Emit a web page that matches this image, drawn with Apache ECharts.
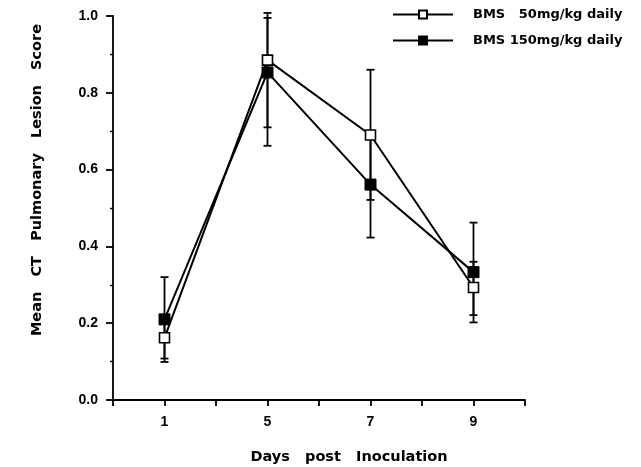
<!DOCTYPE html>
<html>
<head>
<meta charset="utf-8">
<script src="https://cdn.jsdelivr.net/npm/echarts@6/dist/echarts.min.js"></script>
<style>
html,body{margin:0;padding:0;background:#fff;}
#chart{width:641px;height:467px;}
</style>
</head>
<body>
<div id="chart"></div>
<script>
var days = ['1', '5', '7', '9'];
var yTicks = [0, 0.2, 0.4, 0.6, 0.8, 1.0];

var name50 = 'BMS   50mg/kg daily';
var mean50 = [0.162, 0.885, 0.690, 0.293];
var low50  = [0.108, 0.710, 0.521, 0.221];
var high50 = [0.216, 0.995, 0.860, 0.360];

var name150 = 'BMS 150mg/kg daily';
var mean150 = [0.210, 0.853, 0.561, 0.333];
var low150  = [0.099, 0.662, 0.423, 0.202];
var high150 = [0.320, 1.008, 0.700, 0.462];

function xPos(i) { return 2 * i + 1; }
function pts(arr) { return arr.map(function (v, i) { return [xPos(i), v]; }); }
function errData(lo, hi) { return lo.map(function (v, i) { return [xPos(i), v, hi[i]]; }); }

var FONT = 'Liberation Sans, Arial, Helvetica, sans-serif';
var TFONT = 'DejaVu Sans, Verdana, sans-serif';

function errRender(params, api) {
  var x = api.value(0);
  var p1 = api.coord([x, api.value(1)]);
  var p2 = api.coord([x, api.value(2)]);
  var w = 4;
  var st = { stroke: '#000', lineWidth: 1.8 };
  return {
    type: 'group',
    children: [
      { type: 'line', shape: { x1: p1[0], y1: p1[1], x2: p2[0], y2: p2[1] }, style: st },
      { type: 'line', shape: { x1: p1[0] - w, y1: p1[1], x2: p1[0] + w, y2: p1[1] }, style: st },
      { type: 'line', shape: { x1: p2[0] - w, y1: p2[1], x2: p2[0] + w, y2: p2[1] }, style: st }
    ]
  };
}

var chart = echarts.init(document.getElementById('chart'), null, { renderer: 'canvas' });
chart.setOption({
  animation: false,
  backgroundColor: '#fff',
  grid: { left: 113, right: 116, top: 16, bottom: 67, containLabel: false },
  legend: {
    orient: 'vertical',
    left: 392,
    top: 8,
    padding: 0,
    itemWidth: 60,
    itemHeight: 10,
    itemGap: 13,
    data: [name50, name150],
    textStyle: { fontFamily: TFONT, fontWeight: 'bold', fontSize: 13, color: '#000', padding: [0, 0, 0, 15] }
  },
  xAxis: {
    type: 'value',
    min: 0,
    max: 8,
    interval: 1,
    axisLine: { show: true, lineStyle: { color: '#000', width: 1.8 } },
    axisTick: { show: true, inside: false, length: 6, lineStyle: { color: '#000', width: 1.8 } },
    splitLine: { show: false },
    axisLabel: {
      fontFamily: FONT, fontWeight: 'bold', fontSize: 14, color: '#000', margin: 15,
      formatter: function (v) { return (v % 2 === 1) ? days[(v - 1) / 2] : ''; }
    }
  },
  yAxis: {
    type: 'value',
    min: yTicks[0],
    max: yTicks[yTicks.length - 1],
    interval: 0.2,
    axisLine: { show: true, lineStyle: { color: '#000', width: 1.8 } },
    axisTick: { show: true, inside: false, length: 7, lineStyle: { color: '#000', width: 1.8 } },
    minorTick: { show: true, splitNumber: 2, length: 3, lineStyle: { color: '#000', width: 1.4 } },
    splitLine: { show: false },
    axisLabel: {
      fontFamily: FONT, fontWeight: 'bold', fontSize: 14, color: '#000', margin: 15,
      formatter: function (v) { return v.toFixed(1); }
    }
  },
  graphic: [
    {
      type: 'text', x: 349, y: 457,
      style: { text: 'Days   post   Inoculation', fontFamily: TFONT, fontWeight: 'bold', fontSize: 14.5, fill: '#000', align: 'center', verticalAlign: 'middle' }
    },
    {
      type: 'text', x: 37, y: 180, rotation: Math.PI / 2,
      style: { text: 'Mean   CT   Pulmonary   Lesion   Score', fontFamily: TFONT, fontWeight: 'bold', fontSize: 14.5, fill: '#000', align: 'center', verticalAlign: 'middle' }
    }
  ],
  series: [
    {
      type: 'custom', name: 'err50', renderItem: errRender, data: errData(low50, high50), z: 1, silent: true
    },
    {
      type: 'custom', name: 'err150', renderItem: errRender, data: errData(low150, high150), z: 1, silent: true
    },
    {
      name: name150, type: 'line', data: pts(mean150), z: 3,
      symbol: 'rect', symbolSize: 11, showAllSymbol: true,
      lineStyle: { color: '#000', width: 2 },
      itemStyle: { color: '#000', borderColor: '#000', borderWidth: 1 }
    },
    {
      name: name50, type: 'line', data: pts(mean50), z: 4,
      symbol: 'rect', symbolSize: 10, showAllSymbol: true,
      lineStyle: { color: '#000', width: 2 },
      itemStyle: { color: '#fff', borderColor: '#000', borderWidth: 1.6 }
    }
  ]
});
</script>
</body>
</html>
